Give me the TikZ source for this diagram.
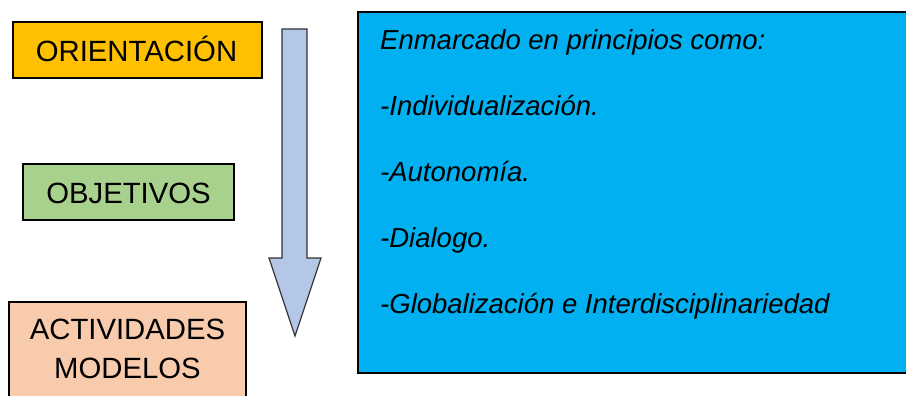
\documentclass[tikz,border=0pt]{standalone}
\usepackage{fontspec}
\setmainfont{Liberation Sans}
\definecolor{cOri}{HTML}{FFC000}
\definecolor{cObj}{HTML}{A9D18E}
\definecolor{cAct}{HTML}{F8CBAD}
\definecolor{cArr}{HTML}{B4C7E7}
\definecolor{cBlue}{HTML}{00B0F0}
\begin{document}
\begin{tikzpicture}[x=1pt,y=-1pt,
  box/.style={draw=black,line width=1.5pt},
  lbl/.style={inner sep=0pt,font=\fontsize{29.3}{34}\selectfont},
  item/.style={inner sep=0pt,anchor=base west,font=\fontsize{27.5}{33}\selectfont\itshape}]
\useasboundingbox (0,0) rectangle (906,396);
\fill[white] (0,0) rectangle (906,396);
% left boxes
\filldraw[box,fill=cOri] (13,22) rectangle (262,78);
\node[lbl,anchor=base] (ori) at (136.5,62) {ORIENTACIÓN};
\filldraw[box,fill=cObj] (23,164) rectangle (234,220);
\node[lbl,anchor=base] (obj) at (128.5,203) {OBJETIVOS};
\filldraw[box,fill=cAct] (9,302) rectangle (246,400);
\node[lbl,anchor=base] (act) at (127.5,339) {ACTIVIDADES};
\node[lbl,anchor=base] (mod) at (127.5,378) {MODELOS};
% arrow
\filldraw[fill=cArr,draw=black!80,line width=1.2pt,line join=miter]
  (282,29) -- (307,29) -- (307,258) -- (321,258) -- (295,336) -- (269,258) -- (282,258) -- cycle;
% right box
\filldraw[box,fill=cBlue] (358,12) rectangle (910,373);
\node[item] (t0) at (380,50) {Enmarcado en principios como:};
\node[item] (t1) at (380,116) {-Individualización.};
\node[item] (t2) at (380,182) {-Autonomía.};
\node[item] (t3) at (380,247) {-Dialogo.};
\node[item] (t4) at (380,313) {-Globalización e Interdisciplinariedad};
\end{tikzpicture}
\end{document}
